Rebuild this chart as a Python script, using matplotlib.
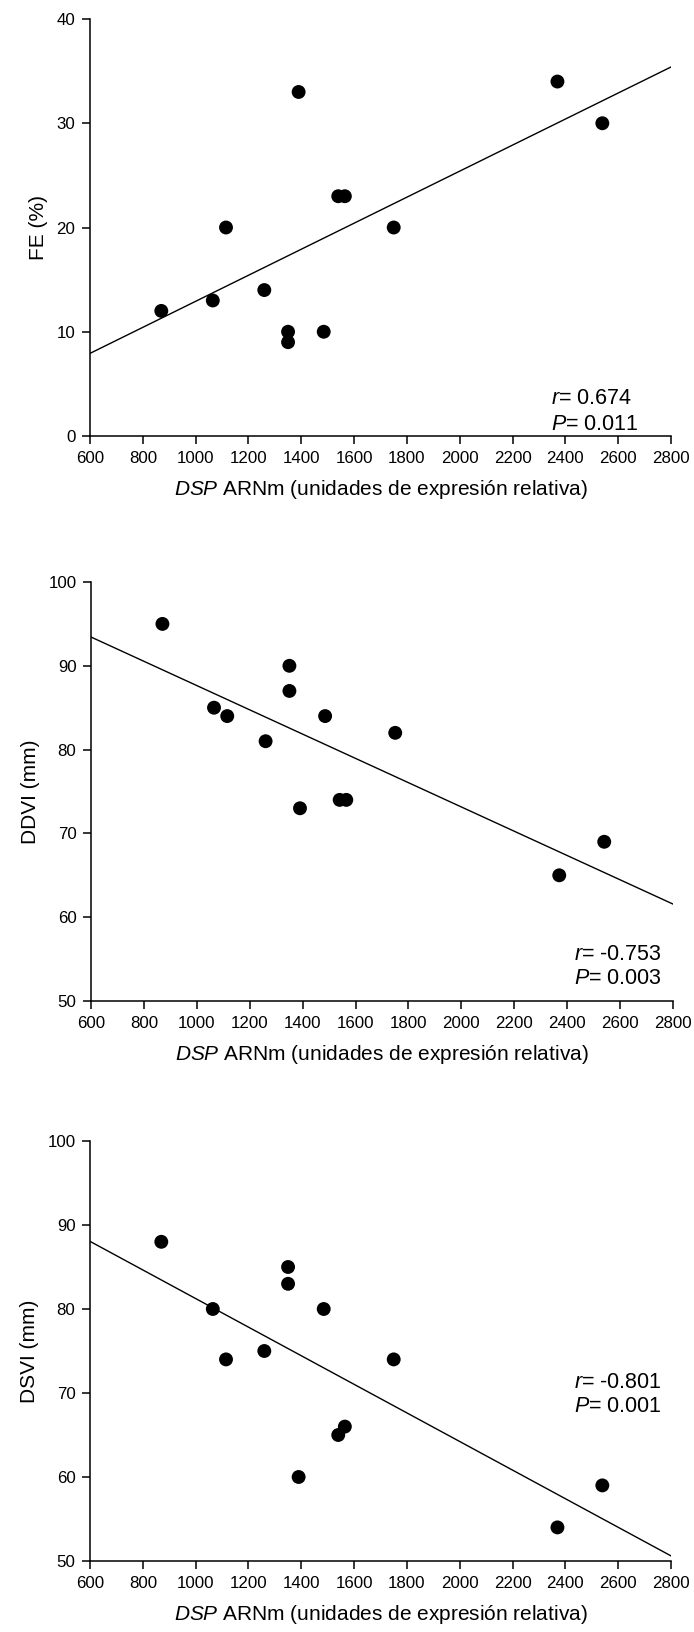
import numpy as np
import matplotlib
matplotlib.use("Agg")
import matplotlib.pyplot as plt

plt.rcParams['font.family'] = ['Liberation Sans', 'DejaVu Sans']
plt.rcParams['mathtext.fontset'] = 'custom'
plt.rcParams['mathtext.rm'] = 'Liberation Sans'
plt.rcParams['mathtext.it'] = 'Liberation Sans:italic'

# Data
dsp = [870, 1065, 1115, 1260, 1350, 1350, 1390, 1485, 1540, 1565, 1750, 2370, 2540]
fe = [12, 13, 20, 14, 10, 9, 33, 10, 23, 23, 20, 34, 30]
ddvi = [95, 85, 84, 81, 90, 87, 73, 84, 74, 74, 82, 65, 69]
dsvi = [88, 80, 74, 75, 85, 83, 60, 80, 65, 66, 74, 54, 59]

x_ticks = [600, 800, 1000, 1200, 1400, 1600, 1800, 2000, 2200, 2400, 2600, 2800]
ylabels = ["FE (%)", "DDVI (mm)", "DSVI (mm)"]
yranges = [(0, 40), (50, 100), (50, 100)]
ystep = [10, 10, 10]
r_texts = ["0.674", "-0.753", "-0.801"]
p_texts = ["0.011", "0.003", "0.001"]
xlabel = r"$\it{DSP}$ ARNm (unidades de expresión relativa)"

W, H = 694, 1632
fig = plt.figure(figsize=(W / 100, H / 100), dpi=100)

# pixel boxes: left, right, top, bottom
boxes = [(90, 671, 19, 436), (91, 673, 582, 1001), (90, 671, 1141, 1561)]
# annotation positions in pixels: x_left, y_r, y_p
ann = [(551, 399, 424), (574, 954, 979), (574, 1382, 1407)]

series = [fe, ddvi, dsvi]
for i, (l, r, t, b) in enumerate(boxes):
    ax = fig.add_axes([l / W, 1 - b / H, (r - l) / W, (b - t) / H])
    y = series[i]
    ax.scatter(dsp, y, s=100, color='black', zorder=3, edgecolors='none')
    k, c = np.polyfit(dsp, y, 1)
    xl = np.array([600, 2800])
    ax.plot(xl, k * xl + c, color='black', lw=1.0)
    ax.set_xlim(600, 2800)
    ax.set_ylim(*yranges[i])
    ax.set_xticks(x_ticks)
    ax.set_yticks(np.arange(yranges[i][0], yranges[i][1] + 1, ystep[i]))
    for s in ['top', 'right']:
        ax.spines[s].set_visible(False)
    for s in ['left', 'bottom']:
        ax.spines[s].set_linewidth(1.1)
    ax.tick_params(direction='out', length=5.5, width=1.1, labelsize=12.2, pad=5)
    ax.set_xlabel(xlabel, fontsize=15, labelpad=9)
    ax.set_ylabel(ylabels[i], fontsize=15, labelpad=6)
    ax.patch.set_alpha(0)
    xa, yr, yp = ann[i]
    fig.text(xa / W, 1 - yr / H, r"$\it{r}$= " + r_texts[i], fontsize=15.5, va='center', ha='left')
    fig.text(xa / W, 1 - yp / H, r"$\it{P}$= " + p_texts[i], fontsize=15.5, va='center', ha='left')

fig.savefig("out.png", dpi=100)
